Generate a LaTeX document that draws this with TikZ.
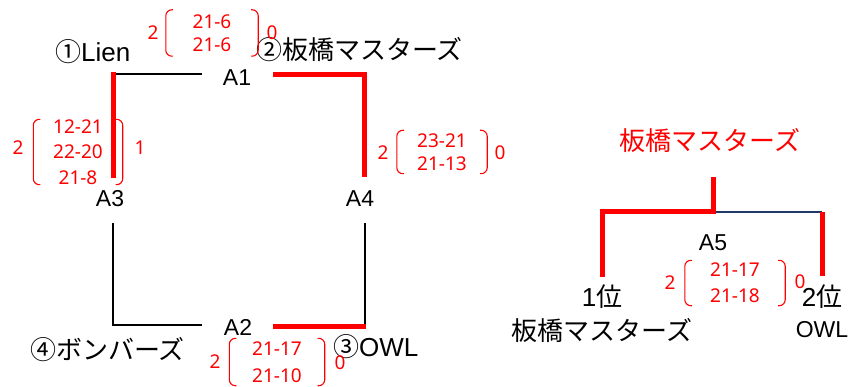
\documentclass[tikz,border=0pt]{standalone}
\usepackage{fontspec}
\setmainfont{Liberation Sans}
\newfontfamily\jp{Noto Sans CJK JP}
\newfontfamily\scorefont{Noto Sans}
\usetikzlibrary{positioning}
\definecolor{navy}{HTML}{203864}

\begin{document}
\begin{tikzpicture}[x=1pt,y=-1pt,
    lbl/.style={font=\fontsize{23}{26}\selectfont, inner sep=0pt},
    team/.style={font=\fontsize{26}{30}\selectfont, inner sep=0pt},
    pts/.style={font=\scorefont\fontsize{19}{#1}\selectfont, text=red, align=center, inner sep=0pt},
    pts/.default=24,
    num/.style={font=\scorefont\fontsize{19}{20}\selectfont, text=red, inner sep=0pt},
    win/.style={red, line width=5pt},
    lose/.style={black, line width=2pt},
    brk/.style={red, line width=1.1pt, rounded corners=6pt}]
  \useasboundingbox (0,0) rectangle (850,387);

  % match labels
  \node[lbl] (a1) at (237,78) {A1};
  \node[lbl] (a2) at (238,327) {A2};
  \node[lbl] (a3) at (110,199) {A3};
  \node[lbl] (a4) at (360,199) {A4};
  \node[lbl] (a5) at (713,243) {A5};

  % teams
  \node[team, anchor=west] (lien) at (55,52) {{\jp ①}Lien};
  \node[team, anchor=west] (itabashi) at (256,50) {\jp ②板橋マスターズ};
  \node[team, anchor=west] (bombers) at (30,350) {\jp ④ボンバーズ};
  \node[team, anchor=west] (owl) at (333,347) {{\jp ③}OWL};
  \node[team, text=red] (champ) at (710,141) {\jp 板橋マスターズ};
  \node[team] (first) at (602,297) {1{\jp 位}};
  \node[team] (firstname) at (602,331) {\jp 板橋マスターズ};
  \node[team] (second) at (822,297) {2{\jp 位}};
  \node[lbl] (secondname) at (822,330) {OWL};

  % line ends
  \coordinate (tl) at (113,74);
  \coordinate (tr) at (364,75);
  \coordinate (bl) at (113,325);
  \coordinate (br) at (365,326);
  \coordinate (a1l) at (202,74);
  \coordinate (a1r) at (273,75);
  \coordinate (a2l) at (202,325);
  \coordinate (a2r) at (273,326);
  \coordinate (a3t) at (113,178);
  \coordinate (a3b) at (113,223);
  \coordinate (a4t) at (364,177);
  \coordinate (a4b) at (365,223);
  \coordinate (a5t) at (713,177);
  \coordinate (a5m) at (713,212);
  \coordinate (a5l) at (602,212);
  \coordinate (a5r) at (822,212);
  \coordinate (a5lb) at (602,277);
  \coordinate (a5rb) at (822,276);

  % league
  \draw[lose] (tl) -- (a1l);
  \draw[win] ([yshift=2pt]tl) -- (a3t);
  \draw[win] (a1r) -- (tr) -- (a4t);
  \draw[lose] (a3b) -- (bl) -- (a2l);
  \draw[lose] (a4b) -- (br);
  \draw[win] (a2r) -- ([xshift=1pt]br);

  % final
  \draw[navy, line width=1.5pt] (a5l) -- (a5r);
  \draw[win] (a5t) -- (a5m) -- (a5l) -- (a5lb);
  \draw[win] (a5r) -- (a5rb);

  % scores
  \node[pts=23, minimum width=92pt, minimum height=46pt] (s1) at (212,33) {21-6\\21-6};
  \node[pts=25.5, minimum width=89pt, minimum height=52pt] (s3) at (78,152) {12-21\\22-20\\21-8};
  \node[pts=23, minimum width=90pt, minimum height=43pt] (s4) at (442,152) {23-21\\21-13};
  \node[pts=27, minimum width=95pt, minimum height=47pt] (s2) at (277,362) {21-17\\21-10};
  \node[pts=26, minimum width=100pt, minimum height=45pt] (s5) at (735,283) {21-17\\21-18};
  \foreach \s in {s1,s2,s3,s4,s5} {
    \draw[brk] ([xshift=7pt]\s.north west) -- (\s.north west) -- (\s.south west) -- ([xshift=7pt]\s.south west);
    \draw[brk] ([xshift=-7pt]\s.north east) -- (\s.north east) -- (\s.south east) -- ([xshift=-7pt]\s.south east);
  }

  \node[num] (w1) at (153,33) {2};
  \node[num] (l1) at (272,33) {0};
  \node[num] (w3) at (18,148) {2};
  \node[num] (l3) at (140,148) {1};
  \node[num] (w4) at (383,153) {2};
  \node[num] (l4) at (500,153) {0};
  \node[num] (w2) at (215,362) {2};
  \node[num] (l2) at (340,363) {0};
  \node[num] (w5) at (670,283) {2};
  \node[num] (l5) at (800,282) {0};
\end{tikzpicture}
\end{document}
